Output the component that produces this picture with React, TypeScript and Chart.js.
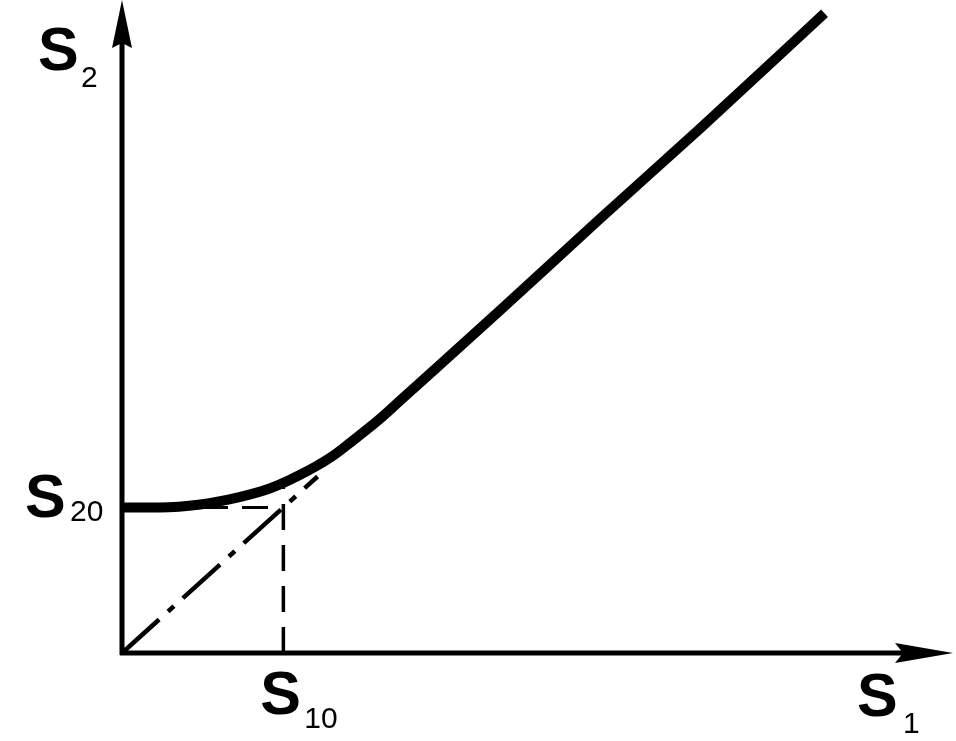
import React, { useEffect, useRef } from "react";
import { Chart, registerables } from "chart.js";

Chart.register(...registerables);

// Schematic values (data units: S10 = S20 ≈ 1)
const S10 = 0.99;
const S20 = 0.99;

// Main curve S2(S1)
const curveS1 = [0, 0.23, 0.48, 0.72, 0.91, 1.09, 1.28, 1.4, 1.58, 1.71, 2.32, 2.93, 3.55, 4.31];
const curveS2 = [0.99, 0.99, 1.01, 1.06, 1.12, 1.21, 1.33, 1.43, 1.59, 1.72, 2.33, 2.95, 3.57, 4.35];

// Diagonal S2 = S1 (dash-dot)
const diagS1 = [0, 1.2];
const diagS2 = [0, 1.2];

// Vertical dashed guide at S10 (from axis up to the curve)
const vertGuideS2 = [0, 1.18];

const X_MAX = 5.0;
const Y_MAX = 4.44;

const axisLabels = {
  x: { main: "S", sub: "1" },
  y: { main: "S", sub: "2" },
  s10: { main: "S", sub: "10" },
  s20: { main: "S", sub: "20" },
};

const MAIN_FONT = "bold 61px 'Liberation Sans', Arial, sans-serif";
const SUB_FONT = "30px 'Liberation Sans', Arial, sans-serif";

function drawLabel(
  ctx: CanvasRenderingContext2D,
  label: { main: string; sub: string },
  x: number,
  baseline: number,
  subDx: number,
  subDy: number
) {
  ctx.fillStyle = "#000";
  ctx.textAlign = "left";
  ctx.textBaseline = "alphabetic";
  ctx.font = MAIN_FONT;
  ctx.fillText(label.main, x, baseline);
  ctx.font = SUB_FONT;
  ctx.fillText(label.sub, x + subDx, baseline + subDy);
}

const axesPlugin = {
  id: "schematicAxes",
  afterDatasetsDraw(chart: any) {
    const { ctx, scales, width } = chart;
    const xs = scales.x;
    const ys = scales.y;
    const ox = xs.getPixelForValue(0);
    const oy = ys.getPixelForValue(0);
    const top = chart.chartArea.top;
    ctx.save();
    ctx.strokeStyle = "#000";
    ctx.fillStyle = "#000";
    ctx.lineWidth = 5;
    ctx.lineCap = "butt";
    // y axis
    ctx.beginPath();
    ctx.moveTo(ox, oy + 2);
    ctx.lineTo(ox, top + 30);
    ctx.stroke();
    ctx.beginPath();
    ctx.moveTo(ox, top);
    ctx.lineTo(ox + 10, top + 48);
    ctx.lineTo(ox, top + 43);
    ctx.lineTo(ox - 10, top + 48);
    ctx.closePath();
    ctx.fill();
    // x axis
    const tipX = width - 3;
    ctx.beginPath();
    ctx.moveTo(ox - 2, oy);
    ctx.lineTo(tipX - 30, oy);
    ctx.stroke();
    ctx.beginPath();
    ctx.moveTo(tipX, oy);
    ctx.lineTo(tipX - 58, oy + 10);
    ctx.lineTo(tipX - 50, oy);
    ctx.lineTo(tipX - 58, oy - 10);
    ctx.closePath();
    ctx.fill();

    // labels
    const s10x = xs.getPixelForValue(S10);
    const s20y = ys.getPixelForValue(S20);
    drawLabel(ctx, axisLabels.y, ox - 84, top + 70, 43, 17);
    drawLabel(ctx, axisLabels.s20, ox - 97, s20y + 10, 45, 4);
    drawLabel(ctx, axisLabels.s10, s10x - 23, oy + 61, 44, 14);
    drawLabel(ctx, axisLabels.x, tipX - 96, oy + 63, 46, 17);
    ctx.restore();
  },
};

export default function App() {
  const canvasRef = useRef<HTMLCanvasElement | null>(null);

  useEffect(() => {
    const canvas = canvasRef.current;
    if (!canvas) return;
    const chart = new Chart(canvas, {
      type: "scatter",
      data: {
        datasets: [
          {
            label: "S20 guide",
            data: [
              { x: 0, y: S20 },
              { x: S10, y: S20 },
            ],
            showLine: true,
            borderColor: "#000",
            borderWidth: 3,
            borderDash: [26, 14],
            pointRadius: 0,
          },
          {
            label: "S10 guide",
            data: vertGuideS2.map((v) => ({ x: S10, y: v })),
            showLine: true,
            borderColor: "#000",
            borderWidth: 3.5,
            borderDash: [26, 15],
            pointRadius: 0,
          },
          {
            label: "diagonal",
            data: diagS1.map((v, i) => ({ x: v, y: diagS2[i] })),
            showLine: true,
            borderColor: "#000",
            borderWidth: 4.5,
            borderDash: [50, 12, 8, 12],
            pointRadius: 0,
          },
          {
            label: "curve",
            data: curveS1.map((v, i) => ({ x: v, y: curveS2[i] })),
            showLine: true,
            borderColor: "#000",
            borderWidth: 10,
            borderCapStyle: "butt",
            cubicInterpolationMode: "monotone",
            pointRadius: 0,
          },
        ],
      },
      options: {
        responsive: false,
        animation: false,
        devicePixelRatio: 1,
        layout: { padding: { left: 122, right: 19, top: 0, bottom: 88 } },
        clip: false as any,
        plugins: {
          legend: { display: false },
          tooltip: { enabled: false },
        },
        scales: {
          x: { type: "linear", min: 0, max: X_MAX, display: false },
          y: { type: "linear", min: 0, max: Y_MAX, display: false },
        },
      },
      plugins: [axesPlugin],
    });
    return () => chart.destroy();
  }, []);

  return (
    <div style={{ position: "fixed", left: 0, top: 0, width: 956, height: 741, background: "#fff" }}>
      <canvas ref={canvasRef} width={956} height={741} style={{ display: "block" }} />
    </div>
  );
}
